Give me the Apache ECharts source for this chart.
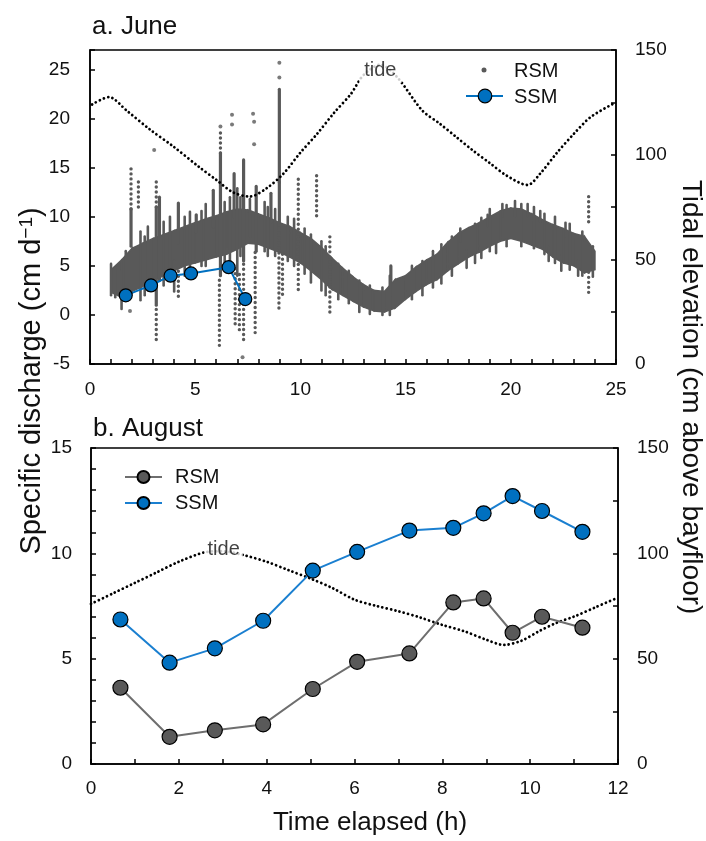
<!DOCTYPE html>
<html><head><meta charset="utf-8">
<script src="https://cdn.jsdelivr.net/npm/echarts@6/dist/echarts.min.js"></script>
<style>html,body{margin:0;padding:0;background:#fff}#c{width:706px;height:841px}</style>
</head><body><div id="c"></div>
<script>
// ---------- Panel a: June ----------
// RSM dense core band (read at 0.5 h steps): lower and upper edges, cm/d
const juneBandTime = [1.0,1.5,2.0,2.5,3.0,3.5,4.0,4.5,5.0,5.5,6.0,6.5,7.0,7.5,8.0,8.5,9.0,9.5,10.0,10.5,11.0,11.5,12.0,12.5,13.0,13.5,14.0,14.5,15.0,15.5,16.0,16.5,17.0,17.5,18.0,18.5,19.0,19.5,20.0,20.5,21.0,21.5,22.0,22.5,23.0,23.5,24.0];
const juneBandLow  = [2.3,1.8,2.4,2.9,3.5,4.0,4.5,5.0,5.3,5.6,5.9,6.2,6.7,7.3,7.2,6.8,6.4,5.9,5.3,4.5,3.6,2.6,2.0,1.4,0.8,0.4,0.3,0.7,1.6,2.4,3.1,3.6,4.5,5.2,5.9,6.4,7.0,7.5,7.8,7.5,7.1,6.7,5.9,5.3,5.0,4.3,4.6];
const juneBandHigh = [4.6,5.6,6.8,7.3,7.8,8.2,8.6,9.0,9.4,9.8,10.1,10.5,10.8,10.7,10.3,9.9,9.4,9.0,8.4,7.8,6.9,5.8,4.8,3.9,3.1,2.5,2.4,3.6,4.0,4.9,5.6,6.2,7.4,8.3,8.9,9.4,10.0,10.6,10.9,10.8,10.3,9.7,9.2,8.8,8.3,8.0,6.5];
// RSM tall dense vertical streaks [time, low, high]
const juneDenseStreaks = [
  [1.95,7.0,10.8],[3.15,1.0,11.0],[3.3,3.5,12.0],[4.2,7.3,11.4],[5.05,8.5,10.2],[5.86,9.0,12.7],
  [6.2,4.0,16.5],[6.85,10.0,14.4],[7.3,5.5,15.8],[7.9,6.5,13.1],[8.6,9.5,12.4],[9.0,13.5,23.0],
  [9.0,9.0,13.5],[14.3,2.0,5.0]
];
// RSM short noise streaks along the band [time, low, high]
const juneNoiseStreaks = [
  [1.0,2.0,5.2],[1.2,1.8,4.8],[1.5,0.6,4.5],[1.7,1.5,6.5],[2.4,1.5,8.5],[2.6,2.0,8.0],[2.75,2.5,9.0],
  [3.5,3.0,9.5],[3.8,3.5,10.0],[4.0,2.4,5.5],[4.5,4.0,10.0],[4.75,4.5,10.5],[5.3,5.0,10.6],[5.5,5.0,11.3],
  [6.4,5.0,11.5],[6.65,5.5,12.0],[7.0,4.0,12.9],[7.15,6.0,12.0],[7.6,8.0,11.8],[8.3,6.5,11.5],[8.45,6.0,11.0],
  [8.8,6.0,10.8],[9.4,5.5,10.0],[9.7,5.0,9.8],[10.2,4.2,8.8],[10.5,3.3,8.2],[11.0,2.5,7.5],[11.2,2.0,7.0],
  [11.8,1.6,5.2],[12.3,1.2,4.5],[12.8,0.3,3.5],[13.3,0.1,3.0],[13.9,0.0,2.8],[14.25,0.0,4.0],[15.3,1.6,5.0],
  [15.8,2.0,5.5],[16.3,2.8,6.5],[16.7,3.2,7.2],[17.2,4.0,8.0],[17.6,7.5,8.8],[17.9,4.8,6.5],[18.3,5.3,9.3],
  [18.6,5.8,9.9],[18.9,9.0,10.2],[19.0,6.5,10.8],[19.3,6.3,7.5],[19.6,10.0,11.3],[19.8,7.0,11.2],[20.2,10.0,11.6],
  [20.5,7.0,11.3],[20.8,10.0,11.3],[21.1,6.8,11.0],[21.4,9.5,10.6],[21.6,6.2,10.3],[21.8,5.5,7.0],[22.1,5.3,10.0],
  [22.4,4.5,6.0],[22.6,8.0,9.4],[22.8,4.6,9.3],[23.2,4.0,5.5],[23.4,4.0,8.5],[23.9,3.9,7.0]
];
// RSM sparse (dotted) columns [time, low, high]
const juneSparseStreaks = [
  [1.95,10.8,15.1],[3.15,11.0,14.0],[6.2,16.5,18.6],
  [3.15,-2.5,1.0],[6.15,-3.1,4.0],[7.3,-2.5,5.5],[7.85,-1.8,6.5],[8.98,0.7,9.0],[9.15,2.1,6.5],
  [9.9,2.6,14.1],[11.4,0.3,8.2],[4.2,1.9,4.8],[2.3,11.0,13.8],[23.7,9.5,12.4],[23.7,2.3,4.5],
  [10.77,10.1,14.2],[6.9,-0.9,5.0],[7.1,-1.5,4.5]
];
// RSM isolated points [time, value]
const juneOutliers = [[3.05,16.8],[6.2,19.2],[6.75,20.4],[6.75,19.4],[7.75,20.5],[7.8,19.7],[7.8,17.4],[7.25,-4.3],[9.0,25.7],[9.0,24.2],[1.9,0.4]];
// SSM June
const juneSSMTime = [1.70,2.90,3.83,4.80,6.59,7.38];
const juneSSM     = [2.0,3.01,4.0,4.23,4.87,1.62];
// Tide June (cm above bayfloor)
const juneTideTime = [0.1,0.9,1.75,2.85,3.95,5.2,6.0,6.8,7.6,8.4,9.2,10.0,10.8,11.6,12.4,13.0,13.8,14.6,15.8,16.6,17.4,18.2,19.0,19.8,20.8,21.4,22.2,23.0,23.8,25.0];
const juneTideElev = [124,127.5,121,112,104,94,88,82,80,84,91,101,110,120,129,138,143,137,121,115,108.5,102,96,90,85.5,91,101,110,118,125];
const juneTideLabelAt = [13.8,140];

// ---------- Panel b: August ----------
const augTime = [0.67,1.79,2.82,3.92,5.05,6.06,7.25,8.25,8.94,9.6,10.27,11.19];
const augRSM  = [3.62,1.29,1.60,1.88,3.56,4.85,5.25,7.67,7.86,6.23,6.99,6.47];
const augSSM  = [6.86,4.81,5.49,6.80,9.18,10.07,11.08,11.21,11.9,12.72,12.01,11.02];
const augTideTime = [0,0.5,1,1.5,2,2.6,3,3.5,4,4.5,5,5.5,6,6.5,7,7.5,8,8.5,9,9.4,9.8,10.2,10.6,11,11.5,12];
const augTideElev = [76,81,86,91,96,100.5,101,99,96,92,88,83.5,78,75,72.5,69.5,66,63,59,56.5,58.5,63,67,70,74.5,79];
const augTideLabelAt = [3.02,102];

// ---------- Tick labels ----------
const juneXLabels = [0,5,10,15,20,25];
const juneLeftLabels = [-5,0,5,10,15,20,25];
const augXLabels = [0,2,4,6,8,10,12];
const augLeftLabels = [0,5,10,15];
const tideLabels = [0,50,100,150];

const FONT = 'Liberation Sans, Arial, sans-serif';
const GRAY = '#595959', BLUE = '#0070C0';
const zip = (a,b) => a.map((v,i)=>[v,b[i]]);

const bandData = juneBandTime.slice(0,-1).map((t,i)=>[t,juneBandLow[i],juneBandHigh[i],juneBandTime[i+1],juneBandLow[i+1],juneBandHigh[i+1]]);

function axisCommon(extra){
  return Object.assign({
    axisLine:{show:true,onZero:false,lineStyle:{color:'#000',width:1.5}},
    axisTick:{show:true,inside:true,length:5,lineStyle:{color:'#000',width:1.5}},
    splitLine:{show:false}
  }, extra);
}
function labelSet(list){ return v => list.indexOf(v) >= 0 ? String(v) : ''; }
function streakRenderer(width, dash){
  return (params, api)=>{
    const a = api.coord([api.value(0), api.value(1)]);
    const b = api.coord([api.value(0), api.value(2)]);
    const st = {stroke:GRAY, lineWidth:width, lineCap:'round'};
    if (dash) st.lineDash = dash;
    return {type:'line', shape:{x1:a[0],y1:a[1],x2:b[0],y2:b[1]}, style:st};
  };
}

const chart = echarts.init(document.getElementById('c'), null, {renderer:'canvas'});
chart.setOption({
  animation:false,
  backgroundColor:'#fff',
  title:[
    {text:'a. June', left:92, top:14, padding:0, textStyle:{fontFamily:FONT,fontSize:26,fontWeight:'normal',color:'#111'}},
    {text:'b. August', left:93, top:416, padding:0, textStyle:{fontFamily:FONT,fontSize:26,fontWeight:'normal',color:'#111'}}
  ],
  grid:[
    {left:90, top:50, width:526, height:314, show:true, borderColor:'#000', borderWidth:1.5, containLabel:false},
    {left:91, top:448, width:527, height:316, show:true, borderColor:'#000', borderWidth:1.5, containLabel:false}
  ],
  legend:{
    orient:'vertical', left:119, top:462, itemWidth:37, itemHeight:15, itemGap:6,
    data:['RSM','SSM'], selectedMode:false,
    textStyle:{fontFamily:FONT,fontSize:20,color:'#111',padding:[0,0,0,8]}
  },
  xAxis:[
    axisCommon({type:'value', gridIndex:0, min:0, max:25, interval:1,
      axisLabel:{fontFamily:FONT,fontSize:19,color:'#111',margin:16,formatter:labelSet(juneXLabels)}}),
    axisCommon({type:'value', gridIndex:1, min:0, max:12, interval:1,
      axisLabel:{fontFamily:FONT,fontSize:19,color:'#111',margin:15,formatter:labelSet(augXLabels)}})
  ],
  yAxis:[
    axisCommon({type:'value', gridIndex:0, position:'left', min:-5, max:27, interval:5,
      axisLabel:{fontFamily:FONT,fontSize:19,color:'#111',margin:20,formatter:labelSet(juneLeftLabels)}}),
    axisCommon({type:'value', gridIndex:0, position:'right', min:0, max:150, interval:25,
      axisLabel:{fontFamily:FONT,fontSize:19,color:'#111',margin:19,formatter:labelSet(tideLabels)}}),
    axisCommon({type:'value', gridIndex:1, position:'left', min:0, max:15, interval:1,
      axisLabel:{fontFamily:FONT,fontSize:19,color:'#111',margin:19,formatter:labelSet(augLeftLabels)}}),
    axisCommon({type:'value', gridIndex:1, position:'right', min:0, max:150, interval:25,
      axisLabel:{fontFamily:FONT,fontSize:19,color:'#111',margin:19,formatter:labelSet(tideLabels)}})
  ],
  series:[
    // June RSM band
    {name:'RSM June band', type:'custom', xAxisIndex:0, yAxisIndex:0, clip:true, z:2,
      encode:{x:[0,3], y:[1,2,4,5]}, data:bandData,
      renderItem:(params, api)=>{
        const p1 = api.coord([api.value(0), api.value(1)]);
        const p2 = api.coord([api.value(0), api.value(2)]);
        const p3 = api.coord([api.value(3), api.value(5)]);
        const p4 = api.coord([api.value(3), api.value(4)]);
        return {type:'polygon', shape:{points:[p1,p2,p3,p4]}, style:{fill:GRAY, stroke:GRAY, lineWidth:1.5}};
      }},
    {name:'RSM June streaks', type:'custom', xAxisIndex:0, yAxisIndex:0, clip:true, z:2,
      encode:{x:0, y:[1,2]}, data:juneDenseStreaks, renderItem:streakRenderer(3.2)},
    {name:'RSM June noise', type:'custom', xAxisIndex:0, yAxisIndex:0, clip:true, z:2,
      encode:{x:0, y:[1,2]}, data:juneNoiseStreaks, renderItem:streakRenderer(2.6)},
    {name:'RSM June sparse', type:'custom', xAxisIndex:0, yAxisIndex:0, clip:true, z:2,
      encode:{x:0, y:[1,2]}, data:juneSparseStreaks, renderItem:streakRenderer(3.4,[0.01,5])},
    {name:'RSM June points', type:'scatter', xAxisIndex:0, yAxisIndex:0, z:2,
      symbolSize:4, itemStyle:{color:GRAY}, data:juneOutliers},
    // June tide
    {name:'tide June', type:'line', xAxisIndex:0, yAxisIndex:1, z:3, smooth:0.3, symbol:'none',
      lineStyle:{color:'#000', width:2.8, type:[0.01,4.4], cap:'round'}, data:zip(juneTideTime, juneTideElev)},
    {name:'tide June label', type:'scatter', xAxisIndex:0, yAxisIndex:1, z:4, symbolSize:0, silent:true,
      data:[juneTideLabelAt],
      label:{show:true, position:'inside', formatter:'tide', fontFamily:FONT, fontSize:20, color:'#111', backgroundColor:'#fff', padding:[2,5]}},
    // June SSM
    {name:'SSM June', type:'line', xAxisIndex:0, yAxisIndex:0, z:5, symbol:'circle', symbolSize:13,
      lineStyle:{color:BLUE, width:2}, itemStyle:{color:BLUE, borderColor:'#000', borderWidth:1.2},
      data:zip(juneSSMTime, juneSSM)},
    // August tide
    {name:'tide August', type:'line', xAxisIndex:1, yAxisIndex:3, z:3, smooth:0.3, symbol:'none',
      lineStyle:{color:'#000', width:2.8, type:[0.01,4.4], cap:'round'}, data:zip(augTideTime, augTideElev)},
    {name:'tide August label', type:'scatter', xAxisIndex:1, yAxisIndex:3, z:4, symbolSize:0, silent:true,
      data:[augTideLabelAt],
      label:{show:true, position:'inside', formatter:'tide', fontFamily:FONT, fontSize:20, color:'#111', backgroundColor:'#fff', padding:[2,3]}},
    // August RSM / SSM
    {name:'RSM', type:'line', xAxisIndex:1, yAxisIndex:2, z:5, symbol:'circle', symbolSize:15,
      lineStyle:{color:'#6e6e6e', width:2}, itemStyle:{color:GRAY, borderColor:'#000', borderWidth:1.2},
      data:zip(augTime, augRSM)},
    {name:'SSM', type:'line', xAxisIndex:1, yAxisIndex:2, z:5, symbol:'circle', symbolSize:15,
      lineStyle:{color:'#1a7fd0', width:2}, itemStyle:{color:BLUE, borderColor:'#000', borderWidth:1.2},
      data:zip(augTime, augSSM)}
  ],
  graphic:[
    // legend for panel a
    {type:'circle', shape:{cx:484, cy:70, r:2.5}, style:{fill:GRAY}, z:10},
    {type:'text', x:514, y:71, style:{text:'RSM', fontFamily:FONT, fontSize:20, fill:'#111', align:'left', verticalAlign:'middle'}, z:10},
    {type:'line', shape:{x1:466, y1:96, x2:503, y2:96}, style:{stroke:BLUE, lineWidth:2}, z:10},
    {type:'circle', shape:{cx:485, cy:96, r:6.8}, style:{fill:BLUE, stroke:'#000', lineWidth:1.2}, z:11},
    {type:'text', x:514, y:97, style:{text:'SSM', fontFamily:FONT, fontSize:20, fill:'#111', align:'left', verticalAlign:'middle'}, z:10},
    // axis titles
    {type:'text', x:32, y:381, rotation:Math.PI/2,
      style:{text:'Specific discharge (cm d{sup|−1})', fontFamily:FONT, fontSize:29, fill:'#111', align:'center', verticalAlign:'middle',
        rich:{sup:{fontFamily:FONT, fontSize:19, fill:'#111', verticalAlign:'top', lineHeight:29}}}},
    {type:'text', x:691, y:397, rotation:-Math.PI/2,
      style:{text:'Tidal elevation (cm above bayfloor)', fontFamily:FONT, fontSize:28, fill:'#111', align:'center', verticalAlign:'middle'}},
    {type:'text', x:370, y:823,
      style:{text:'Time elapsed (h)', fontFamily:FONT, fontSize:26, fill:'#111', align:'center', verticalAlign:'middle'}}
  ]
});
</script>
</body></html>
